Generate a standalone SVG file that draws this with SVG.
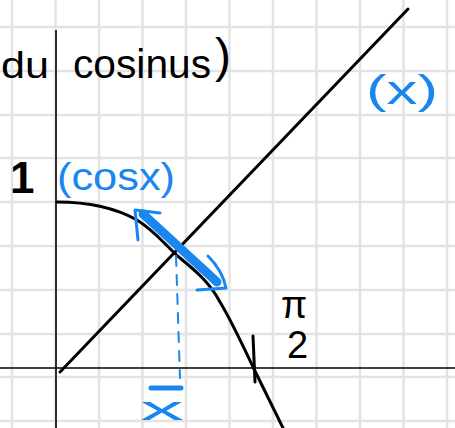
<svg xmlns="http://www.w3.org/2000/svg" width="455" height="428" viewBox="0 0 455 428">
<style>
.grid line{stroke:#e3e3e3;stroke-width:2.5}
.axis{stroke:#000;stroke-width:1.6;fill:none}
.ink{stroke:#000;stroke-width:3;fill:none;stroke-linecap:round;stroke-linejoin:round}
.blue{stroke:#1a86f0;fill:none;stroke-linecap:round;stroke-linejoin:round}
.t{font-family:"Liberation Sans",Arial,sans-serif}
.tb{fill:#000}
.tbl{fill:#1a86f0}
</style>
<rect width="455" height="428" fill="#fff"/>
<g class="grid">
<line x1="12" y1="0" x2="12" y2="428"/>
<line x1="55.5" y1="0" x2="55.5" y2="428"/>
<line x1="99" y1="0" x2="99" y2="428"/>
<line x1="142.5" y1="0" x2="142.5" y2="428"/>
<line x1="186" y1="0" x2="186" y2="428"/>
<line x1="229.5" y1="0" x2="229.5" y2="428"/>
<line x1="273" y1="0" x2="273" y2="428"/>
<line x1="316.5" y1="0" x2="316.5" y2="428"/>
<line x1="360" y1="0" x2="360" y2="428"/>
<line x1="403.5" y1="0" x2="403.5" y2="428"/>
<line x1="447" y1="0" x2="447" y2="428"/>
<line x1="0" y1="27" x2="455" y2="27"/>
<line x1="0" y1="71" x2="455" y2="71"/>
<line x1="0" y1="115" x2="455" y2="115"/>
<line x1="0" y1="158" x2="455" y2="158"/>
<line x1="0" y1="202" x2="455" y2="202"/>
<line x1="0" y1="246" x2="455" y2="246"/>
<line x1="0" y1="290" x2="455" y2="290"/>
<line x1="0" y1="334" x2="455" y2="334"/>
<line x1="0" y1="377" x2="455" y2="377"/>
<line x1="0" y1="421" x2="455" y2="421"/>
</g>
<g id="axes">
<line class="axis" x1="56" y1="30" x2="56" y2="428"/>
<line class="axis" x1="0" y1="368" x2="455" y2="368"/>
</g>
<g id="identity-line">
<line class="ink" x1="60" y1="372" x2="408" y2="9"/>
</g>
<g id="cos-curve">
<path class="ink" d="M57,202 C85,202 112,206 137,220 C155,231 166,246 180,258 C196,271 210,283 220,302 C232,322 245,350 253,367 L283,428"/>
</g>
<g id="tick-pi2">
<path class="ink" d="M253,336 L255,382" stroke-width="4"/>
</g>
<g id="tangent">
<path class="blue" d="M143,214 L217,282" stroke-width="9"/>
<path class="blue" d="M138,240 L135,210 L160,213" stroke-width="3"/>
<path class="blue" d="M208,256 C218,266 224,278 226,288 L197,290" stroke-width="3"/>
</g>
<g id="projection">
<line class="blue" x1="176" y1="256" x2="180" y2="378" stroke-width="2" stroke-dasharray="10 9"/>
<line class="blue" x1="151" y1="388" x2="181" y2="388" stroke-width="5"/>
</g>
<g id="labels">
<text class="t tb" x="1" y="78" font-size="36" textLength="48" lengthAdjust="spacingAndGlyphs">du</text>
<text class="t tb" x="73" y="78" font-size="40" textLength="138" lengthAdjust="spacingAndGlyphs">cosinus</text>
<text class="t tb" x="215" y="72" font-size="48">)</text>
<text class="t tb" x="10" y="193" font-size="44" font-weight="bold">1</text>
<text class="t tbl" x="57" y="190" font-size="38" textLength="118" lengthAdjust="spacingAndGlyphs">(cosx)</text>
<text class="t tbl" x="366" y="104" font-size="40" textLength="72" lengthAdjust="spacingAndGlyphs">(x)</text>
<text class="t tb" x="281" y="318" font-size="38">π</text>
<text class="t tb" x="287" y="358" font-size="38">2</text>
<text class="t tbl" x="140" y="420" font-size="34" textLength="44" lengthAdjust="spacingAndGlyphs">x</text>
</g>
</svg>
